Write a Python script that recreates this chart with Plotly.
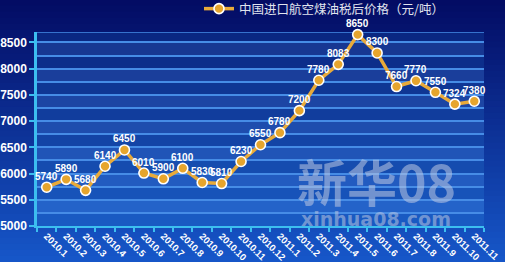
import plotly.graph_objects as go

months = ["2010.1", "2010.2", "2010.3", "2010.4", "2010.5", "2010.6", "2010.7", "2010.8",
          "2010.9", "2010.10", "2010.11", "2010.12", "2011.1", "2011.2", "2011.3", "2011.4",
          "2011.5", "2011.6", "2011.7", "2011.8", "2011.9", "2011.10", "2011.11"]
prices = [5740, 5890, 5680, 6140, 6450, 6010, 5900, 6100, 5830, 5810, 6230, 6550,
          6780, 7200, 7780, 8083, 8650, 8300, 7660, 7770, 7550, 7324, 7380]
series_name = "中国进口航空煤油税后价格（元/吨）"
y_ticks = [5000, 5500, 6000, 6500, 7000, 7500, 8000, 8500]

W, H = 505, 262
ML, MR, MT, MB = 37, 21, 32, 36
PW, PH = W - ML - MR, H - MT - MB
Y0, Y1 = 5000, 8700


def lerp(c1, c2, t):
    return "rgb(%d,%d,%d)" % tuple(round(a + (b - a) * t) for a, b in zip(c1, c2))


shapes = []
# page background gradient
top_c, bot_c = (3, 12, 100), (22, 86, 200)
n = 44
for i in range(n):
    t = i / (n - 1)
    y_top = 1 + MT / PH - (i / n) * (H / PH)
    y_bot = 1 + MT / PH - ((i + 1) / n) * (H / PH)
    shapes.append(dict(type="rect", xref="paper", yref="paper",
                       x0=-ML / PW - 0.01, x1=1 + MR / PW + 0.01,
                       y0=y_bot - 0.002, y1=y_top + 0.002,
                       fillcolor=lerp(top_c, bot_c, t), line_width=0, layer="below"))

# plot-area bands
ptop, pbot = (10, 38, 128), (26, 92, 196)
edges = [5000 + 250 * k for k in range(15)] + [8700]
for k in range(len(edges) - 1):
    a, b = edges[k], edges[k + 1]
    t = 1 - ((a + b) / 2 - Y0) / (Y1 - Y0)
    c = [round(v) for v in (ptop[j] + (pbot[j] - ptop[j]) * t for j in range(3))]
    if k % 2 == 1:
        c = [min(255, v + 12) for v in c]
    shapes.append(dict(type="rect", xref="paper", yref="y", x0=0, x1=1, y0=a, y1=b,
                       fillcolor="rgb(%d,%d,%d)" % tuple(c), line_width=0, layer="below"))
# top border line
shapes.append(dict(type="line", xref="paper", yref="y", x0=0, x1=1, y0=Y1, y1=Y1,
                   line=dict(color="rgb(70,140,230)", width=1.5), layer="below"))

fig = go.Figure()
fig.add_trace(go.Scatter(
    x=months, y=prices, mode="lines+markers", name=series_name,
    line=dict(color="rgb(232,170,58)", width=3.5),
    marker=dict(size=10, color="rgb(230,165,45)", line=dict(color="white", width=1.6)),
    cliponaxis=False,
))

annotations = [
    dict(text="新华08", xref="paper", yref="paper", x=(376 - ML) / PW, y=1 - (180 - MT) / PH,
         xanchor="center", yanchor="middle", showarrow=False,
         font=dict(family="Noto Sans CJK SC, sans-serif", size=50,
                   color="rgba(190,200,225,0.55)", weight="bold")),
    dict(text="xinhua08.com", xref="paper", yref="paper", x=(376 - ML) / PW, y=1 - (219 - MT) / PH,
         xanchor="center", yanchor="middle", showarrow=False,
         font=dict(family="DejaVu Sans, sans-serif", size=19,
                   color="rgba(190,200,225,0.55)", weight="bold")),
]
for i, p in enumerate(prices):
    annotations.append(dict(x=i, y=p, xref="x", yref="y", text=str(p), showarrow=False,
                            xanchor="center", yanchor="middle", yshift=11,
                            font=dict(family="Liberation Sans, Arial", size=10,
                                      color="white", weight="bold")))

fig.update_layout(
    width=W, height=H, margin=dict(l=ML, r=MR, t=MT, b=MB, autoexpand=False),
    paper_bgcolor="rgb(12,40,140)", plot_bgcolor="rgba(0,0,0,0)",
    shapes=shapes, annotations=annotations,
    showlegend=True,
    legend=dict(orientation="h", x=(199 - ML) / PW, xanchor="left", y=1 + (MT + 6) / PH,
                yanchor="top", bgcolor="rgba(0,0,0,0)",
                font=dict(family="Noto Sans CJK SC, sans-serif", size=12.5, color="rgb(225,228,238)")),
    xaxis=dict(type="category", range=[-0.5, len(months) - 0.5], tickson="boundaries",
               automargin=False, ticklabelstandoff=-1,
               ticks="outside", ticklen=4, tickcolor="rgb(60,190,240)", tickwidth=1.5,
               showline=True, linecolor="rgb(60,190,240)", linewidth=2, showgrid=False,
               tickangle=45, tickfont=dict(family="Liberation Sans, Arial", size=9.5,
                                           color="white", weight="bold")),
    yaxis=dict(range=[Y0, Y1], tickvals=y_ticks, ticks="outside", ticklen=5, automargin=False,
               tickcolor="rgb(60,190,240)", tickwidth=2,
               showline=True, linecolor="rgb(60,190,240)", linewidth=2.5,
               showgrid=True, gridcolor="rgb(70,140,230)", gridwidth=1.5,
               minor=dict(dtick=250, tick0=5000, showgrid=True, gridcolor="rgb(70,140,230)",
                          gridwidth=1.5, ticks=""),
               zeroline=False,
               tickfont=dict(family="Liberation Sans, Arial", size=12, color="white", weight="bold")),
)

fig.write_html("out.html")
